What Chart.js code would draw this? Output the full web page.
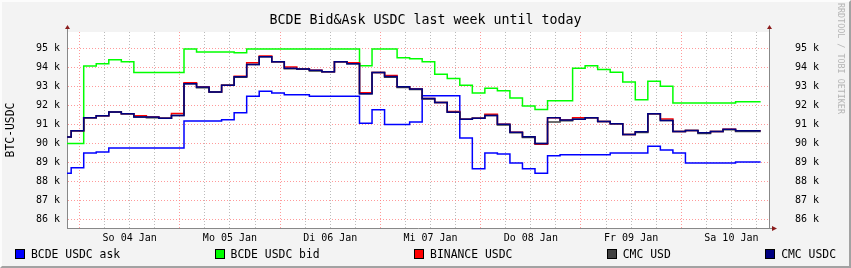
<!DOCTYPE html>
<html>
<head>
<meta charset="utf-8">
<script src="https://cdn.jsdelivr.net/npm/chart.js@4.4.1/dist/chart.umd.min.js"></script>
<style>
  html, body { margin: 0; padding: 0; background: #f3f3f3; }
  #wrap { position: relative; width: 851px; height: 268px; background: #f3f3f3; font-family: 'DejaVu Sans Mono', monospace; }
  #frame { position: absolute; left: 0; top: 0; width: 851px; height: 268px; box-sizing: border-box;
           border-top: 2px solid #fcfcfc; border-left: 2px solid #fcfcfc;
           border-right: 2px solid #a2a2a2; border-bottom: 2px solid #a2a2a2; pointer-events: none; }
  #title { position: absolute; left: 0; width: 851px; top: 12px; text-align: center; font-size: 13.3px; line-height: 16px; color: #000; }
  #legend { position: absolute; left: 15px; right: 15px; top: 246px; display: flex; justify-content: space-between; font-size: 11.4px; line-height: 16px; }
  #legend span.item { display: flex; align-items: center; white-space: pre; }
  #legend span.box { display: inline-block; width: 8px; height: 8px; border: 1px solid #000; margin-right: 6px; }
  #mark { position: absolute; left: 836px; top: 3px; writing-mode: vertical-rl; font-size: 8.4px; color: #b4b4b4; white-space: pre; }
</style>
</head>
<body>
<div id="wrap">
  <canvas id="chart" width="851" height="268"></canvas>
  <div id="title">BCDE Bid&amp;Ask USDC last week until today</div>
  <div id="legend"></div>
  <div id="mark">RRDTOOL / TOBI OETIKER</div>
  <div id="frame"></div>
</div>
<script>
'use strict'

// day labels (placed at midnight), data runs in 3 hour steps
const dayLabels = ['So 04 Jan', 'Mo 05 Jan', 'Di 06 Jan', 'Mi 07 Jan', 'Do 08 Jan', 'Fr 09 Jan', 'Sa 10 Jan'];
const seriesNames = ['BCDE USDC ask', 'BCDE USDC bid', 'BINANCE USDC', 'CMC USD', 'CMC USDC'];
const seriesColors = ['#0000ff', '#00ff00', '#ff0000', '#404040', '#000080'];

// values in k USDC
const bcdeAsk = [88.43, 88.72, 89.50, 89.55, 89.76, 89.76, 89.76, 89.76, 89.76, 89.76,
  91.19, 91.19, 91.19, 91.26, 91.62, 92.50, 92.76, 92.67, 92.57, 92.57,
  92.50, 92.50, 92.50, 92.50, 91.07, 91.78, 91.00, 91.00, 91.14, 92.52,
  92.52, 92.52, 90.29, 88.67, 89.50, 89.45, 88.98, 88.67, 88.43, 89.36,
  89.41, 89.41, 89.41, 89.41, 89.50, 89.50, 89.50, 89.86, 89.66, 89.50,
  88.98, 88.98, 88.98, 88.98, 89.03, 89.03];
const bcdeBid = [90.00, 90.00, 94.09, 94.21, 94.42, 94.31, 93.75, 93.75, 93.75, 93.75,
  94.98, 94.83, 94.83, 94.83, 94.78, 94.98, 94.98, 94.98, 94.98, 94.98,
  94.98, 94.98, 94.98, 94.98, 94.10, 94.98, 94.98, 94.52, 94.47, 94.31,
  93.65, 93.43, 93.07, 92.66, 92.91, 92.78, 92.40, 91.98, 91.79, 92.26,
  92.26, 93.97, 94.10, 93.90, 93.76, 93.24, 92.31, 93.28, 93.02, 92.14,
  92.14, 92.14, 92.14, 92.14, 92.21, 92.21];
const binanceUsdc = [90.34, 90.67, 91.36, 91.47, 91.66, 91.57, 91.47, 91.40, 91.33, 91.58,
  93.20, 92.98, 92.72, 93.07, 93.55, 94.26, 94.62, 94.31, 94.04, 93.93,
  93.86, 93.79, 94.31, 94.26, 92.68, 93.74, 93.59, 93.00, 92.88, 92.38,
  92.17, 91.69, 91.28, 91.33, 91.54, 91.02, 90.60, 90.36, 89.96, 91.36,
  91.24, 91.36, 91.36, 91.16, 91.05, 90.48, 90.62, 91.57, 91.29, 90.64,
  90.69, 90.57, 90.64, 90.76, 90.67, 90.67];
const cmcUsd = [90.34, 90.67, 91.36, 91.47, 91.66, 91.57, 91.40, 91.36, 91.33, 91.48,
  93.15, 92.94, 92.72, 93.07, 93.50, 94.17, 94.57, 94.31, 93.94, 93.93,
  93.82, 93.79, 94.31, 94.21, 92.62, 93.74, 93.49, 92.96, 92.85, 92.35,
  92.17, 91.65, 91.28, 91.33, 91.48, 90.98, 90.57, 90.32, 90.00, 91.14,
  91.20, 91.28, 91.36, 91.16, 91.05, 90.48, 90.58, 91.57, 91.22, 90.64,
  90.69, 90.53, 90.64, 90.73, 90.63, 90.63];
const cmcUsdc = [90.34, 90.67, 91.36, 91.47, 91.66, 91.57, 91.40, 91.40, 91.33, 91.48,
  93.15, 92.98, 92.72, 93.07, 93.52, 94.17, 94.57, 94.31, 93.97, 93.93,
  93.86, 93.79, 94.31, 94.21, 92.62, 93.74, 93.53, 93.00, 92.88, 92.38,
  92.17, 91.65, 91.28, 91.33, 91.48, 91.02, 90.60, 90.36, 90.00, 91.36,
  91.24, 91.28, 91.36, 91.16, 91.05, 90.48, 90.62, 91.57, 91.22, 90.64,
  90.69, 90.57, 90.64, 90.76, 90.67, 90.67];

// hours since graph start: first sample 0..1, then every 3 hours
const stepStart = (i) => i === 0 ? 0 : 1 + 3 * (i - 1);
const toPoints = (values) => {
    const pts = values.map((v, i) => ({ x: stepStart(i), y: v }));
    pts.push({ x: stepStart(values.length), y: values[values.length - 1] });
    return pts;
}

const allSeries = [bcdeAsk, bcdeBid, binanceUsdc, cmcUsd, cmcUsdc];
const datasets = allSeries.map((values, i) => ({
    label: seriesNames[i],
    data: toPoints(values),
    borderColor: seriesColors[i],
    borderWidth: 1.5,
    stepped: true,
    pointRadius: 0,
    fill: false,
    order: allSeries.length - i
}));

// legend as html
const legend = document.getElementById('legend');
seriesNames.forEach((name, i) => {
    legend.insertAdjacentHTML('beforeend',
        `<span class="item"><span class="box" style="background:${seriesColors[i]}"></span>${name}</span>`);
});

const font = { family: "'DejaVu Sans Mono', monospace", size: 10 };
const gridColor = (ctx, base) => (((ctx.tick.value - base) % 24 === 0) ? 'rgba(255,120,120,0.75)' : 'rgba(170,170,170,0.8)');

const plotBg = {
    id: 'plotBg',
    beforeDraw(chart) {
        const { ctx, chartArea: a } = chart;
        ctx.save();
        ctx.fillStyle = '#ffffff';
        ctx.fillRect(a.left, a.top, a.right - a.left, a.bottom - a.top);
        ctx.restore();
    },
    afterDraw(chart) {
        const { ctx, chartArea: a } = chart;
        ctx.save();
        ctx.strokeStyle = '#888888';
        ctx.lineWidth = 1;
        ctx.beginPath();
        ctx.moveTo(a.left + 0.5, a.top); ctx.lineTo(a.left + 0.5, a.top - 4);
        ctx.moveTo(a.right + 0.5, a.top); ctx.lineTo(a.right + 0.5, a.top - 4);
        ctx.moveTo(a.right, a.bottom + 0.5); ctx.lineTo(a.right + 4, a.bottom + 0.5);
        ctx.stroke();
        ctx.fillStyle = '#8b1c1c';
        const up = (x, y) => { ctx.beginPath(); ctx.moveTo(x - 2.5, y + 4); ctx.lineTo(x + 2.5, y + 4); ctx.lineTo(x, y); ctx.closePath(); ctx.fill(); };
        up(a.left + 0.5, a.top - 7);
        up(a.right + 0.5, a.top - 7);
        ctx.beginPath();
        ctx.moveTo(a.right + 3, a.bottom - 2); ctx.lineTo(a.right + 3, a.bottom + 3); ctx.lineTo(a.right + 8, a.bottom + 0.5); ctx.closePath(); ctx.fill();
        ctx.restore();
    }
};

const yTicks = (scale) => {
    scale.ticks = [];
    for (let v = 86; v <= 95.5; v += 0.5) scale.ticks.push({ value: v });
};
const yLabel = (v) => Number.isInteger(v) ? v + ' k' : '';

new Chart(document.getElementById('chart'), {
    type: 'line',
    data: { datasets: datasets },
    options: {
        responsive: false,
        animation: false,
        layout: { padding: { top: 28, left: 0, right: 0, bottom: 0 } },
        plugins: { legend: { display: false }, tooltip: { enabled: false }, title: { display: false } },
        scales: {
            x: {
                type: 'linear', min: 0, max: 168,
                afterBuildTicks: (scale) => {
                    scale.ticks = [];
                    for (let h = 3; h < 168; h += 6) scale.ticks.push({ value: h });
                },
                afterFit: (scale) => { scale.height = 40; },
                ticks: {
                    autoSkip: false, maxRotation: 0, padding: 4, font: font, color: '#000',
                    callback: (v) => ((v - 15) % 24 === 0) ? dayLabels[(v - 15) / 24] : ''
                },
                grid: { color: (ctx) => gridColor(ctx, 3), drawTicks: false, lineWidth: 1 },
                border: { display: true, color: '#888888', width: 1, dash: [1, 2] }
            },
            y: {
                type: 'linear', position: 'left', min: 85.55, max: 95.88,
                afterBuildTicks: yTicks,
                afterFit: (scale) => { scale.width = 67; },
                ticks: { padding: 7, font: font, color: '#000', callback: yLabel },
                grid: {
                    color: (ctx) => Number.isInteger(ctx.tick.value) ? 'rgba(255,120,120,0.75)' : 'rgba(170,170,170,0.8)',
                    drawTicks: false, lineWidth: 1
                },
                border: { display: true, color: '#888888', width: 1, dash: [1, 2] },
                title: { display: true, text: 'BTC-USDC', font: { family: "'DejaVu Sans Mono', monospace", size: 11.4 }, color: '#000', padding: { top: 4, bottom: 0 } }
            },
            y2: {
                type: 'linear', position: 'right', min: 85.55, max: 95.88,
                afterBuildTicks: yTicks,
                afterFit: (scale) => { scale.width = 82; },
                ticks: { padding: 26, font: font, color: '#000', callback: yLabel },
                grid: { display: false, drawTicks: false },
                border: { display: true, color: '#888888', width: 1 }
            }
        }
    },
    plugins: [plotBg]
});
</script>
</body>
</html>
